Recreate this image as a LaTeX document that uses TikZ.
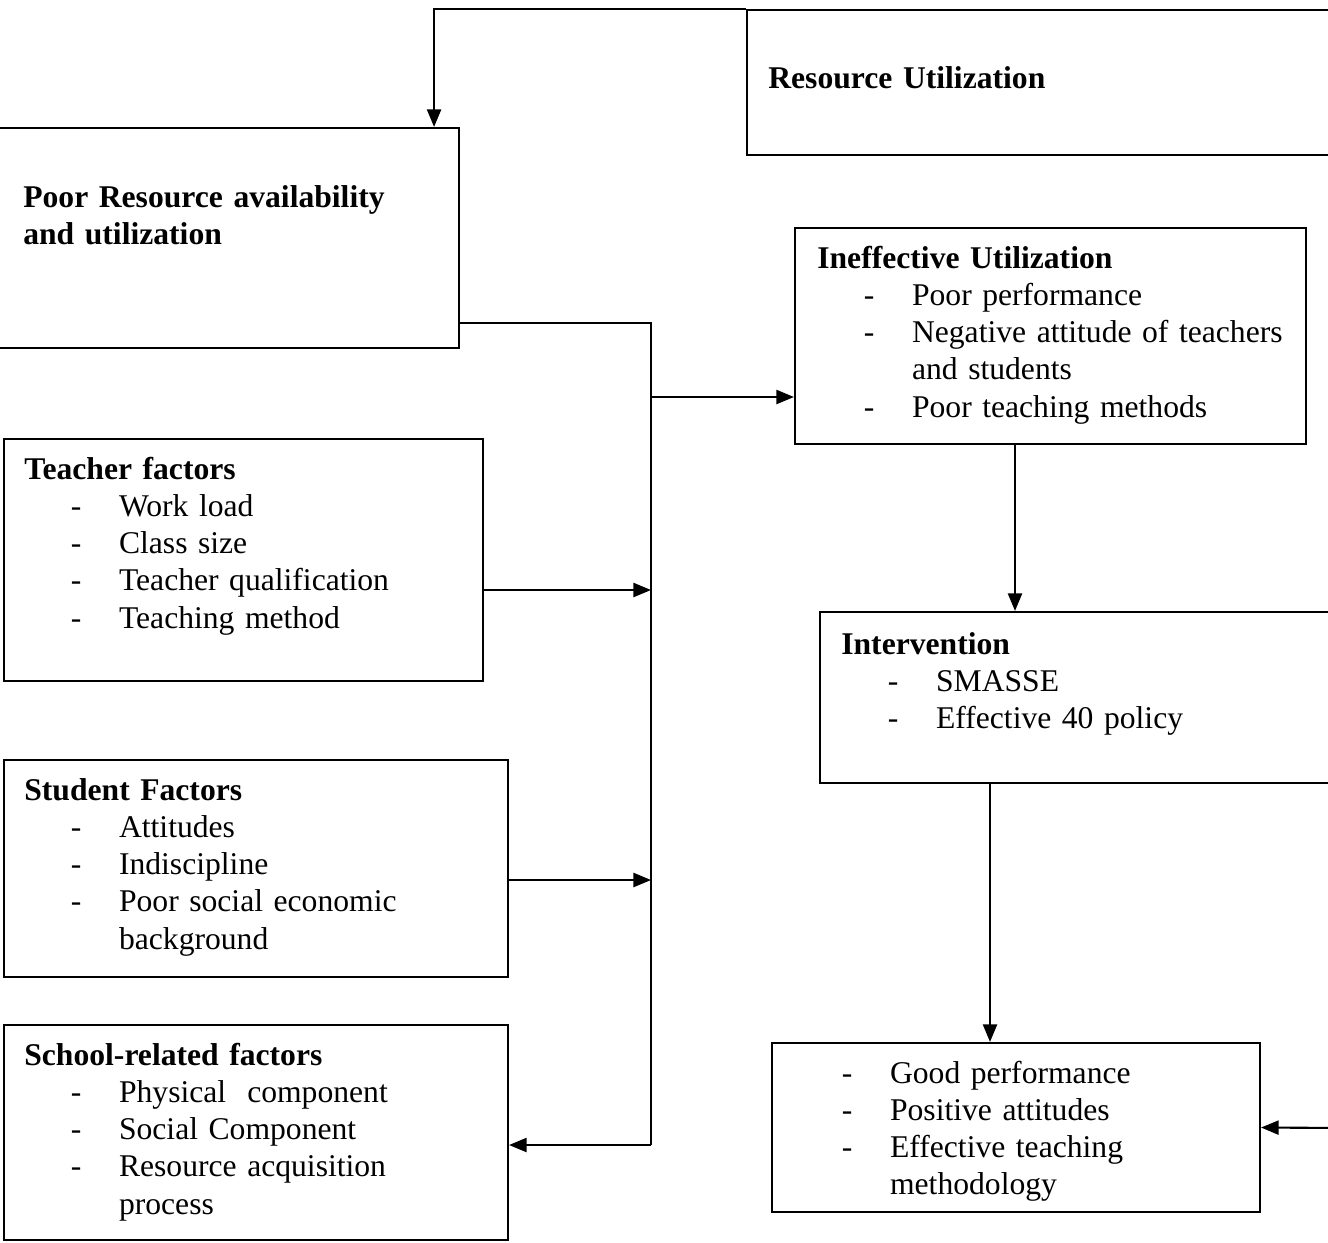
\documentclass[tikz,border=0pt]{standalone}
\usepackage{fontspec}
\setmainfont{Liberation Serif}
\usetikzlibrary{fit,arrows.meta}

\newcommand{\itemline}[1]{\hspace*{26.5pt}\makebox[27.4pt][l]{-}#1}
\newcommand{\itemcont}[1]{\hspace*{53.9pt}#1}

\tikzset{
  box/.style={draw, line width=1.2pt, inner sep=0pt},
  txt/.style={anchor=base west, inner sep=0pt, text width=14cm, align=left,
              font=\fontsize{18}{21.2}\selectfont},
  arr/.style={line width=1.2pt, -{Triangle[length=10pt,width=8pt]}}
}

\begin{document}
\begin{tikzpicture}[x=0.02cm, y=-0.02cm]
  \clip (0,0) rectangle (1328,1242);
  \fill[white] (0,0) rectangle (1328,1242);

  % Draw the boxes
  \node[box, fit={(747,10) (1345,155)}] (resutil) {};
  \node[box, fit={(-10,128) (459,348)}] (poor) {};
  \node[box, fit={(4,439) (483,681)}] (teacher) {};
  \node[box, fit={(4,760) (508,977)}] (student) {};
  \node[box, fit={(4,1025) (508,1240)}] (school) {};
  \node[box, fit={(795,228) (1306,444)}] (ineff) {};
  \node[box, fit={(820,612) (1345,783)}] (interv) {};
  \node[box, fit={(772,1043) (1260,1212)}] (good) {};

  % Texts in the boxes
  \node[txt] (resutiltxt) at (768,88) {\textbf{Resource Utilization}};
  \node[txt] (poortxt) at (23,207) {\textbf{Poor Resource availability}\\\textbf{and utilization}};
  \node[txt] (teachertxt) at (24,479) {\textbf{Teacher factors}\\
    \itemline{Work load}\\ \itemline{Class size}\\
    \itemline{Teacher qualification}\\ \itemline{Teaching method}};
  \node[txt] (studenttxt) at (24,800) {\textbf{Student Factors}\\
    \itemline{Attitudes}\\ \itemline{Indiscipline}\\
    \itemline{Poor social economic}\\ \itemcont{background}};
  \node[txt] (schooltxt) at (24,1065) {\textbf{School-related factors}\\
    \itemline{Physical\ \ component}\\ \itemline{Social Component}\\
    \itemline{Resource acquisition}\\ \itemcont{process}};
  \node[txt] (infftxt) at (817,268) {\textbf{Ineffective Utilization}\\
    \itemline{Poor performance}\\ \itemline{Negative attitude of teachers}\\
    \itemcont{and students}\\ \itemline{Poor teaching methods}};
  \node[txt] (intervtxt) at (841,654) {\textbf{Intervention}\\
    \itemline{SMASSE}\\ \itemline{Effective 40 policy}};
  \node[txt] (goodtxt) at (795,1083) {\itemline{Good performance}\\
    \itemline{Positive attitudes}\\ \itemline{Effective teaching}\\
    \itemcont{methodology}};

  % Helper points for the connectors
  \coordinate (bustop) at (651,323);
  \coordinate (busbot) at (651,1145);
  \coordinate (ji) at (651,397);
  \coordinate (jt) at (651,590);
  \coordinate (js) at (651,880);
  \coordinate (d1) at (1015,0);
  \coordinate (d2) at (990,0);
  \coordinate (rin) at (1345,1128);

  % Draw the connectors
  \draw[arr] (resutil.north west) -| ([xshift=-0.52cm]poor.north east);
  \draw[line width=1.2pt] (bustop -| poor.east) -- (bustop) -- (busbot);
  \draw[arr] (ji) -- (ji -| ineff.west);
  \draw[arr] (jt -| teacher.east) -- (jt);
  \draw[arr] (js -| student.east) -- (js);
  \draw[arr] (busbot) -- (busbot -| school.east);
  \draw[arr] (d1 |- ineff.south) -- (d1 |- interv.north);
  \draw[arr] (d2 |- interv.south) -- (d2 |- good.north);
  \draw[arr] (rin) -- (good.east);
\end{tikzpicture}
\end{document}
